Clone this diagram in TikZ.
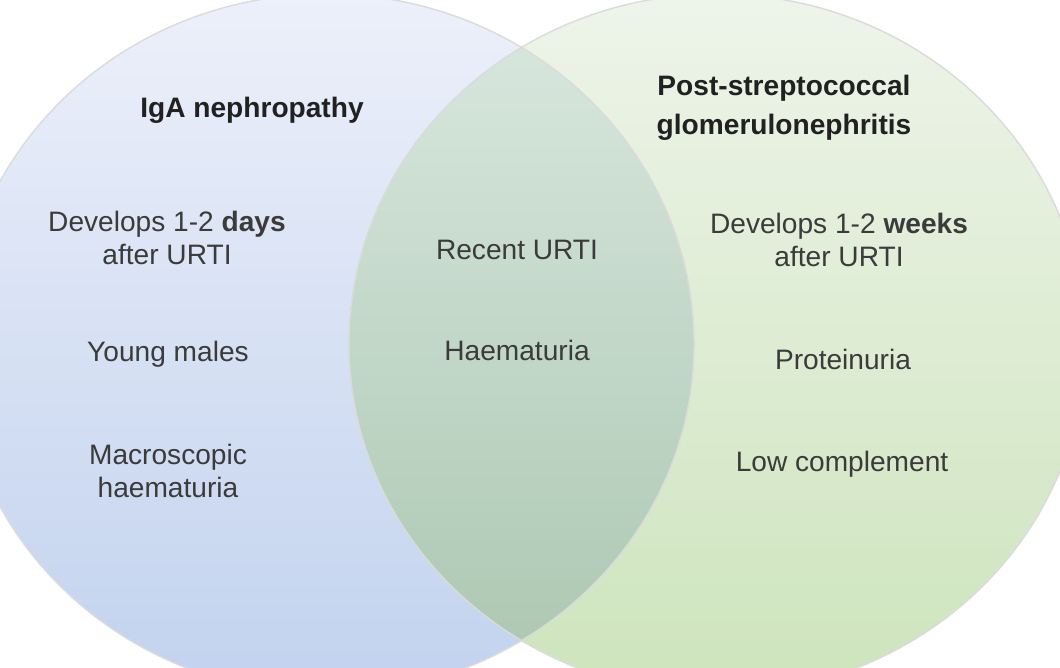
\documentclass[tikz,border=0pt]{standalone}
\usepackage{fontspec}
\setmainfont{Liberation Sans}
\definecolor{iga top}{RGB}{236,240,250}
\definecolor{iga bot}{RGB}{194,210,238}
\definecolor{psgn top}{RGB}{238,244,234}
\definecolor{psgn bot}{RGB}{205,228,188}
\definecolor{both top}{RGB}{218,232,224}
\definecolor{both bot}{RGB}{170,198,176}
\begin{document}
\begin{tikzpicture}[x=0.02cm, y=-0.02cm, font=\fontsize{16}{18.5}\selectfont, line join=round, line cap=round]
	\tikzset{
	lbl/.style={align=center, text=black!77, inner sep=0pt},
	ttl/.style={lbl, font=\fontsize{16}{22}\selectfont\bfseries, text=black!87},
	rim/.style={draw=black!14, line width=0.8pt},
	}
	\useasboundingbox (0,0) rectangle (1060,668);
	\fill[top color=iga top, bottom color=iga bot] (326,344) ellipse [x radius=368, y radius=350];
	\fill[top color=psgn top, bottom color=psgn bot] (717,344) ellipse [x radius=368, y radius=350];
	\begin{scope}
	\clip (326,344) ellipse [x radius=368, y radius=350];
	\fill[top color=both top, bottom color=both bot] (717,344) ellipse [x radius=368, y radius=350];
	\end{scope}
	\draw[rim] (326,344) ellipse [x radius=368, y radius=350];
	\draw[rim] (717,344) ellipse [x radius=368, y radius=350];
	\node[ttl] (iga) at (252,110) {IgA nephropathy};
	\node[ttl] (psgn) at (784,108) {Post-streptococcal\\glomerulonephritis};
	\node[lbl] (days) at (167,238) {Develops 1-2 \textbf{days}\\after URTI};
	\node[lbl] (young) at (168,354) {Young males};
	\node[lbl] (macro) at (168,471) {Macroscopic\\haematuria};
	\node[lbl] (recent) at (517,250) {Recent URTI};
	\node[lbl] (haem) at (517,350) {Haematuria};
	\node[lbl] (weeks) at (839,240) {Develops 1-2 \textbf{weeks}\\after URTI};
	\node[lbl] (prot) at (843,359) {Proteinuria};
	\node[lbl] (lowc) at (842,464) {Low complement};
\end{tikzpicture}
\end{document}
